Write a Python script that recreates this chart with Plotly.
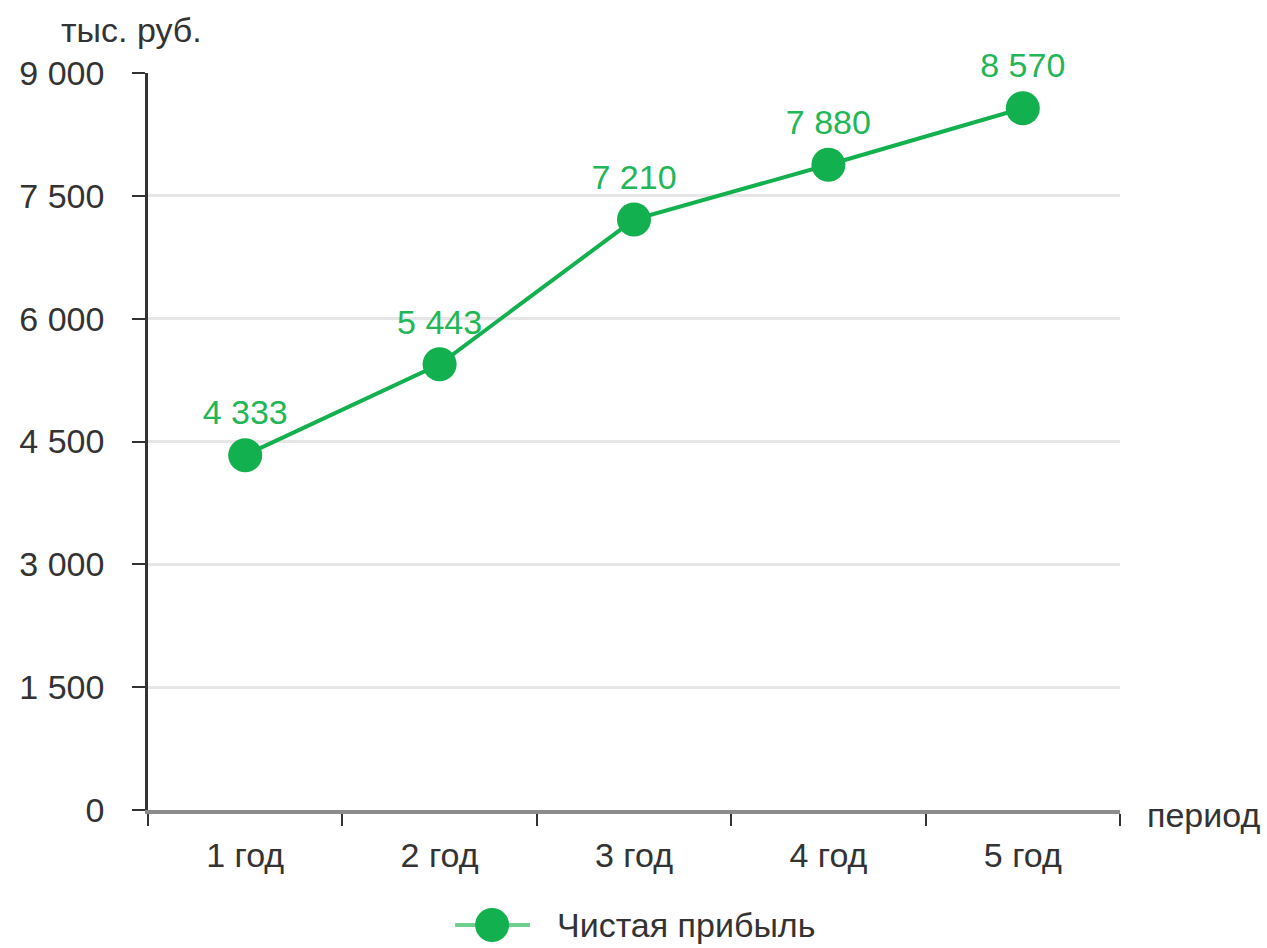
import plotly.graph_objects as go

categories = ["1 год", "2 год", "3 год", "4 год", "5 год"]
net_profit = [4333, 5443, 7210, 7880, 8570]
series_name = "Чистая прибыль"
y_ticks = [0, 1500, 3000, 4500, 6000, 7500, 9000]

FONT = "Liberation Sans Narrow, Arial Narrow, Liberation Sans, Arial, sans-serif"
FS = 34
GREEN = "#12b04f"
LEGEND_LINE = "#6fcf8f"
TEXT_GREEN = "#22b657"
DARK = "#333333"

fig = go.Figure()
fig.add_trace(go.Scatter(
    x=categories, y=net_profit, name=series_name,
    mode="lines+markers+text",
    line=dict(color=GREEN, width=4),
    marker=dict(color=GREEN, size=34),
    texttemplate="%{y:,}", textposition="top center",
    textfont=dict(color=TEXT_GREEN, size=FS, family=FONT),
    cliponaxis=False, showlegend=False,
))

# custom legend (larger marker than plotly's legend allows)
LEG_Y = -0.156
fig.add_shape(type="line", xref="paper", yref="paper", x0=0.316, x1=0.393, y0=LEG_Y, y1=LEG_Y,
              line=dict(color=LEGEND_LINE, width=4))
fig.add_shape(type="circle", xref="paper", yref="paper", xsizemode="pixel", ysizemode="pixel",
              xanchor=0.354, yanchor=LEG_Y, x0=-17, x1=17, y0=-17, y1=17,
              fillcolor=GREEN, line=dict(color=GREEN, width=0))

fig.update_layout(
    width=1267, height=948,
    margin=dict(l=148, r=147, t=73, b=138, autoexpand=False),
    paper_bgcolor="white", plot_bgcolor="white",
    separators=", ",
    font=dict(family=FONT, size=FS, color=DARK),
    showlegend=False,
    xaxis=dict(
        type="category", range=[-0.5, 4.5], automargin=False,
        showline=True, linecolor="#8c8c8c", linewidth=4,
        ticks="outside", tickson="boundaries", ticklen=12, tickcolor=DARK, tickwidth=2,
        ticklabelstandoff=12,
        showgrid=False, tickfont=dict(size=FS, color=DARK),
    ),
    yaxis=dict(
        range=[0, 9000], tickvals=y_ticks, tickformat=",", automargin=False,
        showline=True, linecolor=DARK, linewidth=2.5,
        ticks="outside", ticklen=13, tickcolor=DARK, tickwidth=2,
        ticklabelstandoff=21,
        showgrid=True, gridcolor="#e6e6e6", gridwidth=3, zeroline=False,
        tickfont=dict(size=FS, color=DARK),
    ),
    annotations=[
        dict(text="тыс. руб.", xref="paper", yref="paper", x=-0.092, y=1.058,
             xanchor="left", yanchor="middle", showarrow=False,
             font=dict(size=FS, color=DARK, family=FONT)),
        dict(text="период", xref="paper", yref="paper", x=1.026, y=0,
             xanchor="left", yanchor="middle", yshift=-5, showarrow=False,
             font=dict(size=FS, color=DARK, family=FONT)),
        dict(text=series_name, xref="paper", yref="paper", x=0.4187, y=LEG_Y,
             xanchor="left", yanchor="middle", showarrow=False,
             font=dict(size=FS, color=DARK, family=FONT)),
    ],
)

fig.write_html("out.html")
